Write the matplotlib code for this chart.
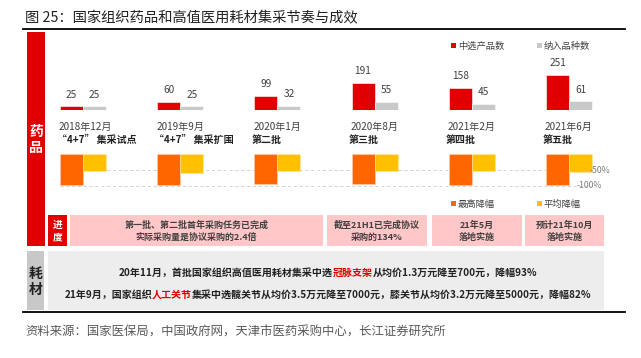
import matplotlib
matplotlib.use('Agg')
import matplotlib.pyplot as plt
import matplotlib.patches as mpatches
import matplotlib.transforms as mtransforms
import numpy as np

plt.rcParams['font.family'] = ['Noto Sans CJK SC', 'DejaVu Sans']

# data
dates = ['2018年12月', '2019年9月', '2020年1月', '2020年8月', '2021年2月', '2021年6月']
batches = ['“4+7” 集采试点', '“4+7” 集采扩围', '第二批', '第三批', '第四批', '第五批']
selected = [25, 60, 99, 191, 158, 251]     # 中选产品数
varieties = [25, 25, 32, 55, 45, 61]       # 纳入品种数
max_drop = [96, 96, 93, 95, 96, 98]        # 最高降幅 %
avg_drop = [52, 59, 53, 53, 52, 56]        # 平均降幅 %

progress = ['第一批、第二批首年采购任务已完成\n实际采购量是协议采购的2.4倍',
            '截至21H1已完成协议\n采购的134%',
            '21年5月\n落地实施',
            '预计21年10月\n落地实施']

line1 = [('20年11月，首批国家组织高值医用耗材集采中选', '#222222'), ('冠脉支架', '#E00000'),
         ('从均价1.3万元降至700元，降幅93%', '#222222')]
line2 = [('21年9月，国家组织', '#222222'), ('人工关节', '#E00000'),
         ('集采中选髋关节从均价3.5万元降至7000元，膝关节从均价3.2万元降至5000元，降幅82%', '#222222')]

RED = '#E00000'
GRAY = '#C9C9C9'
ORANGE = '#FF6600'
YELLOW = '#FFC000'
PINK = '#FFC7C7'
TXT = '#404040'

W, H = 641, 358
fig = plt.figure(figsize=(W / 100, H / 100), dpi=100)

# background axes in pixel units
bg = fig.add_axes([0, 0, 1, 1])
bg.set_xlim(0, W)
bg.set_ylim(H, 0)
bg.axis('off')

def px_axes(left, top, right, bottom):
    ax = fig.add_axes([left / W, (H - bottom) / H, (right - left) / W, (bottom - top) / H])
    ax.axis('off')
    ax.patch.set_alpha(0)
    return ax

def rect(x0, y0, x1, y1, color):
    bg.add_patch(mpatches.Rectangle((x0, y0), x1 - x0, y1 - y0, facecolor=color, edgecolor='none'))

# title + rules
bg.text(25, 18, '图 25：国家组织药品和高值医用耗材集采节奏与成效', fontsize=10.3, color='#222222',
        ha='left', va='center')
bg.plot([23, 625], [28.5, 28.5], color='black', lw=1.3)
bg.plot([23, 625], [312, 312], color='black', lw=1.3)

# side label boxes
rect(27, 32, 45, 246, RED)
bg.text(36, 140, '药\n品', color='white', fontsize=10, fontweight='bold', ha='center', va='center',
        linespacing=1.15)
rect(48, 215, 67, 246, RED)
bg.text(57.5, 231, '进\n度', color='white', fontsize=7, fontweight='bold', ha='center', va='center',
        linespacing=1.3)
rect(27, 251, 44, 310, '#C8C8C8')
bg.text(35.5, 282, '耗\n材', color='#222222', fontsize=10, fontweight='bold', ha='center', va='center',
        linespacing=1.2)
rect(48, 251, 604, 310, '#EDEDED')

# progress boxes
boxes = [(70, 323), (327, 427), (432, 522), (525, 604)]
for (x0, x1), s in zip(boxes, progress):
    rect(x0, 215, x1, 246, PINK)
    bg.text((x0 + x1) / 2, 231, s, fontsize=6.5, fontweight='bold', color=TXT, ha='center', va='center',
            linespacing=1.45)

# bar charts: 1 group = 97.2 px, group 0 centre at px 83
G0, GS, BW = 83, 97.2, 0.237
xl = ((40 - G0) / GS, (620 - G0) / GS)
idx = np.arange(len(dates))

top = px_axes(40, 60, 620, 110)
top.set_xlim(*xl)
top.set_ylim(0, 50 / 0.14)
top.bar(idx - BW, selected, width=BW, align='edge', color=RED, edgecolor='white', lw=0.4)
top.bar(idx, varieties, width=BW, align='edge', color=GRAY, edgecolor='white', lw=0.4)
for i in idx:
    top.annotate(str(selected[i]), (i - BW / 2, selected[i]), xytext=(0, 8.5), textcoords='offset points',
                 ha='center', va='center', fontsize=7.3, color=TXT)
    top.annotate(str(varieties[i]), (i + BW / 2, varieties[i]), xytext=(0, 8.5), textcoords='offset points',
                 ha='center', va='center', fontsize=7.3, color=TXT)

tr = mtransforms.blended_transform_factory(top.transData, bg.transData)
for i in idx:
    top.text(i - BW - 0.01, 127, dates[i], transform=tr, fontsize=7.2, color=TXT, ha='left', va='center')
    top.text(i - BW - 0.03, 140, batches[i], transform=tr, fontsize=7.2, fontweight='bold', color='#222222',
             ha='left', va='center')

low = px_axes(40, 150, 620, 190)
low.set_xlim(*xl)
low.set_ylim(-1 - 4 / 32, 4 / 32)
low.hlines([-0.5, -1.0], -BW, 5 + BW, colors='#CFCFCF', linestyles=(0, (3, 3)), lw=0.7, zorder=0)
low.bar(idx - BW, -np.array(max_drop) / 100, width=BW, align='edge', color=ORANGE, edgecolor='#FFD0B0',
        lw=0.4, zorder=2)
low.bar(idx, -np.array(avg_drop) / 100, width=BW, align='edge', color=YELLOW, edgecolor='#FFE8A0',
        lw=0.4, zorder=2)
low.text(5.216, -0.52, '-50%', fontsize=6.3, color='#7F7F7F', ha='left', va='center')
low.text(5.08, -1.0, '-100%', fontsize=6.3, color='#7F7F7F', ha='left', va='center')

# legends
for x, y, c, s in [(451, 45.5, RED, '中选产品数'), (537, 45.5, GRAY, '纳入品种数'),
                   (451, 203.5, ORANGE, '最高降幅'), (537, 203.5, YELLOW, '平均降幅')]:
    rect(x, y - 2.5, x + 5, y + 2.5, c)
    bg.text(x + 7, y + 0.5, s, fontsize=6.7, color=TXT, ha='left', va='center')

# coloured text lines in the consumables box
def rich_line(y, parts):
    texts = [bg.text(0, y, parts[0][0], color=parts[0][1], fontsize=7.2, fontweight='bold',
                     ha='left', va='center')]
    for s, c in parts[1:]:
        texts.append(bg.annotate(s, xy=(1, 0.5), xycoords=texts[-1], color=c, fontsize=7.2,
                                 fontweight='bold', ha='left', va='center'))
    return texts

lines = [rich_line(273, line1), rich_line(295, line2)]
fig.canvas.draw()
r = fig.canvas.get_renderer()
for texts in lines:
    total = sum(t.get_window_extent(r).width for t in texts)
    texts[0].set_x(328 - total / 2)

bg.text(25, 332, '资料来源：国家医保局，中国政府网，天津市医药采购中心，长江证券研究所', fontsize=8.9,
        color='#595959', ha='left', va='center')

fig.savefig('out.png', dpi=100)
